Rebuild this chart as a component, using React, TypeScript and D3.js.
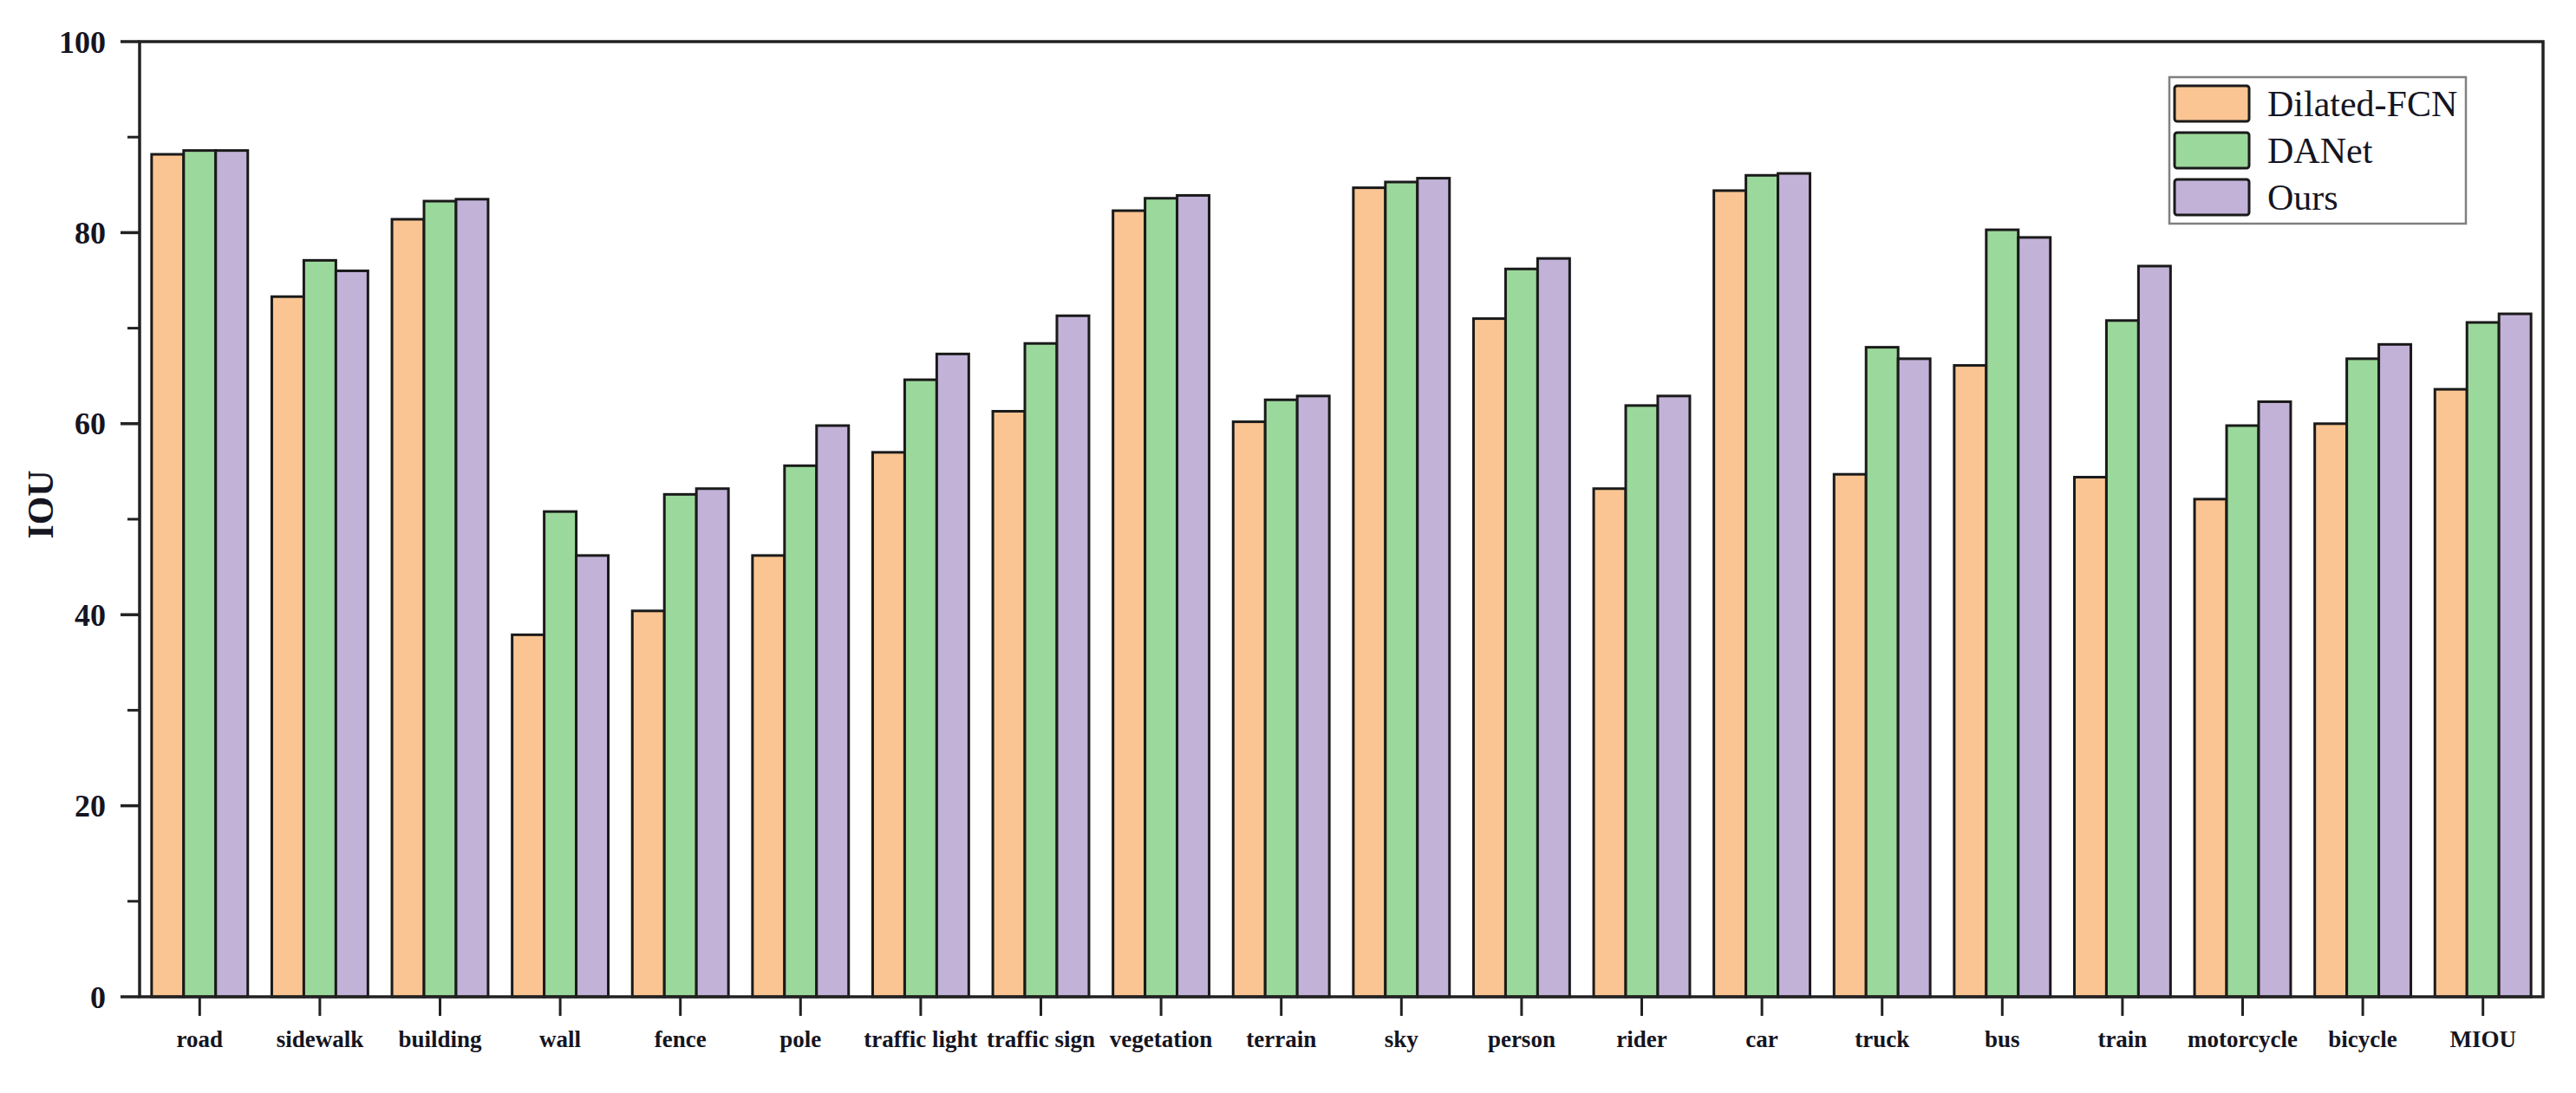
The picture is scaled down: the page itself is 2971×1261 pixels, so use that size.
import React from "react";
import * as d3 from "d3";

const categories = ["road","sidewalk","building","wall","fence","pole","traffic light","traffic sign","vegetation","terrain","sky","person","rider","car","truck","bus","train","motorcycle","bicycle","MIOU"];
const dilatedFCN = [88.2,73.3,81.4,37.9,40.4,46.2,57.0,61.3,82.3,60.2,84.7,71.0,53.2,84.4,54.7,66.1,54.4,52.1,60.0,63.6];
const danet = [88.6,77.1,83.3,50.8,52.6,55.6,64.6,68.4,83.6,62.5,85.3,76.2,61.9,86.0,68.0,80.3,70.8,59.8,66.8,70.6];
const ours = [88.6,76.0,83.5,46.2,53.2,59.8,67.3,71.3,83.9,62.9,85.7,77.3,62.9,86.2,66.8,79.5,76.5,62.3,68.3,71.5];
const seriesNames = ["Dilated-FCN","DANet","Ours"];
const seriesColors = ["#FAC592","#9BD89B","#C2B2D8"];
const yTicks = [0,20,40,60,80,100];
const yMinorTicks = [10,30,50,70,90];

const W = 2971, H = 1261;
const left = 161, right = 2933, top = 48, bottom = 1150;

export default function App() {
  const series = [dilatedFCN, danet, ours];
  const x = d3.scaleBand<string>().domain(categories).range([left, right]).paddingInner(0).paddingOuter(0);
  const bw = x.bandwidth();
  const groupW = bw * 0.8;
  const x1 = d3.scaleBand<string>().domain(seriesNames).range([0, groupW]).padding(0);
  const y = d3.scaleLinear().domain([0, 100]).range([bottom, top]);
  const serif = "'Liberation Serif', 'Times New Roman', serif";
  const textColor = "#151522";
  const legX = 2502, legY = 89, legW = 342, legH = 169;
  const rowH = 54;
  return (
    <svg width={W} height={H} style={{ position: "absolute", left: 0, top: 0, background: "#fff" }}>
      <rect x={0} y={0} width={W} height={H} fill="#fff" />
      {categories.map((c, i) => (
        <g key={c}>
          {series.map((s, j) => (
            <rect
              key={j}
              x={(x(c) as number) + (bw - groupW) / 2 + (x1(seriesNames[j]) as number)}
              y={y(s[i])}
              width={x1.bandwidth()}
              height={y(0) - y(s[i])}
              fill={seriesColors[j]}
              stroke="#1a1a1a"
              strokeWidth={3}
            />
          ))}
        </g>
      ))}
      <rect x={left} y={top} width={right - left} height={bottom - top} fill="none" stroke="#222" strokeWidth={3.5} />
      {yTicks.map((t) => (
        <g key={t}>
          <line x1={left - 22} x2={left} y1={y(t)} y2={y(t)} stroke="#222" strokeWidth={3.5} />
          <text x={122} y={y(t)} dy="0.35em" textAnchor="end" fontFamily={serif} fontWeight="bold" fontSize={36} fill={textColor}>{t}</text>
        </g>
      ))}
      {yMinorTicks.map((t) => (
        <line key={t} x1={left - 14} x2={left} y1={y(t)} y2={y(t)} stroke="#222" strokeWidth={3} />
      ))}
      {categories.map((c) => {
        const cx = (x(c) as number) + bw / 2;
        return (
          <g key={c}>
            <line x1={cx} x2={cx} y1={bottom} y2={bottom + 22} stroke="#222" strokeWidth={3} />
            <text x={cx} y={1208} textAnchor="middle" fontFamily={serif} fontWeight="bold" fontSize={27} fill={textColor}>{c}</text>
          </g>
        );
      })}
      <text transform={`translate(61, 582) rotate(-90)`} textAnchor="middle" fontFamily={serif} fontWeight="bold" fontSize={42} fill={textColor}>IOU</text>
      <rect x={legX} y={legY} width={legW} height={legH} fill="#fff" stroke="#808080" strokeWidth={2.5} />
      {seriesNames.map((n, j) => (
        <g key={n}>
          <rect x={2508} y={legY + 10 + j * rowH} width={86} height={41} rx={3} fill={seriesColors[j]} stroke="#1a1a1a" strokeWidth={3} />
          <text x={2615} y={legY + 10 + j * rowH + 20.5} dy="0.35em" fontFamily={serif} fontSize={42} fill={textColor}>{n}</text>
        </g>
      ))}
    </svg>
  );
}
